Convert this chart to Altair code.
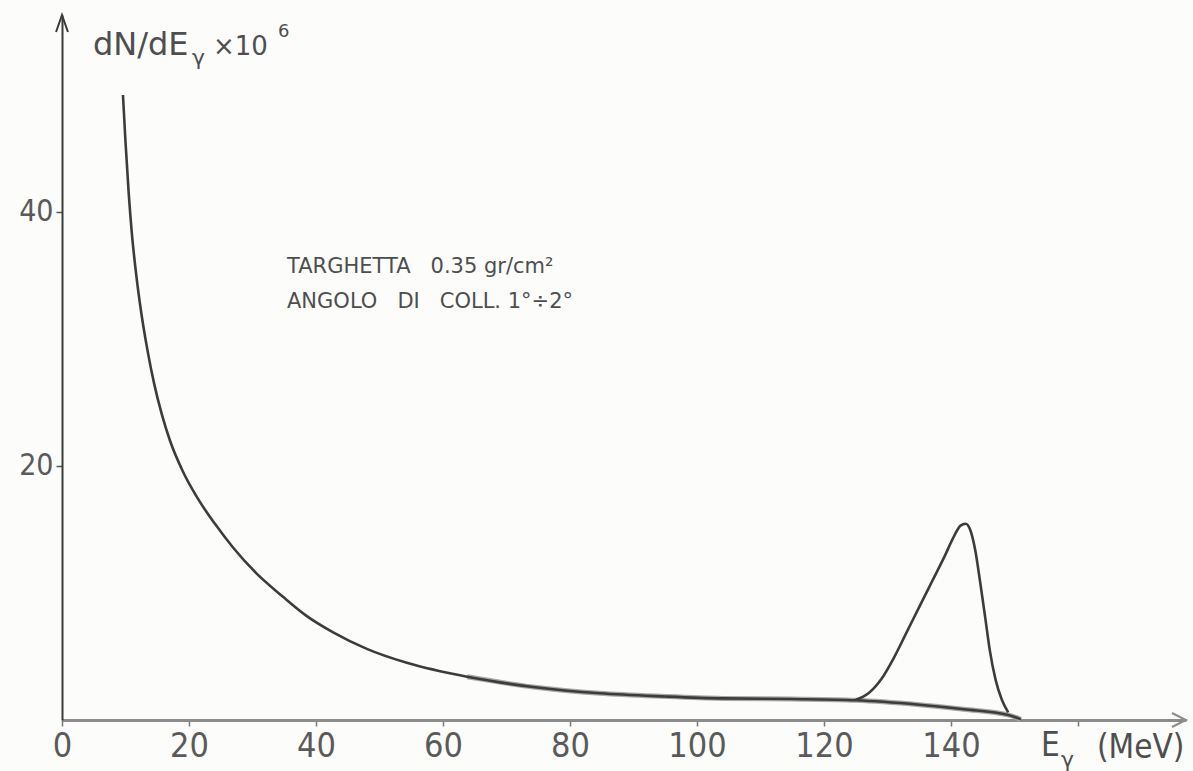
import altair as alt
import pandas as pd

# ---- data ----
cont_E = [9.6, 10.0, 10.5, 11.0, 11.7, 12.5, 13.5, 14.5, 15.7, 17.0, 19.0, 21.3, 24.0, 26.9, 30.5, 34.8,
          38.5, 42.7, 48.0, 54.3, 63.8, 74.2, 84.7, 95.0, 104.0, 115.0, 125.0, 135.0, 142.0, 149.0, 151.0]
cont_N = [49.2, 45.5, 41.5, 38.3, 35.0, 32.0, 29.0, 26.5, 24.1, 22.0, 19.6, 17.5, 15.5, 13.6, 11.6, 9.7,
          8.2, 6.9, 5.6, 4.5, 3.4, 2.6, 2.1, 1.85, 1.7, 1.65, 1.55, 1.2, 0.85, 0.4, 0.05]

peak_E = [125.0, 127.0, 129.0, 131.0, 133.0, 135.0, 137.0, 139.0, 140.5, 141.5, 142.3, 143.0, 143.8,
          144.6, 145.4, 146.1, 147.0, 148.0, 149.0]
peak_N = [1.6, 2.1, 3.2, 4.9, 6.9, 8.9, 10.9, 12.9, 14.5, 15.3, 15.45, 15.0, 13.4,
          10.8, 8.0, 5.5, 3.2, 1.6, 0.6]

x_ticks = [0, 20, 40, 60, 80, 100, 120, 140, 160]
y_ticks = [20, 40]

X_MAX = 177.0
Y_MAX = 55.5

NARROW = "Liberation Sans Narrow, DejaVu Sans Condensed, Liberation Sans, sans-serif"
SANS = "DejaVu Sans, sans-serif"
NB = "\u00a0"

cont = pd.DataFrame({"E": cont_E, "N": cont_N})
band = cont[cont["E"] >= 55].reset_index(drop=True)
peak = pd.DataFrame({"E": peak_E, "N": peak_N})

xs = alt.Scale(domain=[0, X_MAX], nice=False, zero=False)
ys = alt.Scale(domain=[0, Y_MAX], nice=False, zero=False)

x_axis = alt.Axis(values=x_ticks, labelExpr="datum.value == 160 ? '' : datum.label",
                  domainColor="#8c8c8c", domainWidth=3, tickColor="#777777", tickSize=6,
                  tickWidth=1.5, labelFont=NARROW, labelFontSize=34, labelColor="#5a5a5a",
                  labelPadding=3, grid=False, title=None, format="d", labelFlush=False)
y_axis = alt.Axis(values=y_ticks, domainColor="#3a3a3a", domainWidth=2, tickColor="#555555",
                  tickSize=6, tickWidth=1.5, labelFont=NARROW, labelFontSize=30,
                  labelColor="#5a5a5a", labelPadding=3, grid=False, title=None, format="d")

X = alt.X("E:Q", scale=xs, axis=x_axis)
Y = alt.Y("N:Q", scale=ys, axis=y_axis)

band_layer = alt.Chart(band).mark_line(color="#a8a8a8", strokeWidth=5, interpolate="monotone").encode(x=X, y=Y)
cont_layer = alt.Chart(cont).mark_line(color="#3c3c3c", strokeWidth=2.6, interpolate="monotone").encode(x=X, y=Y)
peak_layer = alt.Chart(peak).mark_line(color="#3c3c3c", strokeWidth=2.6, interpolate="monotone").encode(x=X, y=Y)

# axis arrowheads
xarrow = alt.Chart(pd.DataFrame({"E": [X_MAX], "N": [0.0]})).mark_point(
    shape="M -1 -0.5 L 0 0 L -1 0.5", filled=False, size=784, color="#8c8c8c", strokeWidth=2, opacity=1
).encode(x=X, y=Y)
yarrow = alt.Chart(pd.DataFrame({"E": [0.0], "N": [Y_MAX]})).mark_point(
    shape="M -0.35 1 L 0 0 L 0.35 1", filled=False, size=1156, color="#3a3a3a", strokeWidth=2, opacity=1
).encode(x=X, y=Y)

# texts (pixel positions relative to plot origin)
labels = pd.DataFrame([
    {"t": "dN/dE", "px": 31, "py": 40, "fs": 32, "f": "sans"},
    {"t": "γ", "px": 130, "py": 50, "fs": 22, "f": "sans"},
    {"t": "×10", "px": 151, "py": 40, "fs": 26, "f": "sans"},
    {"t": "6", "px": 216, "py": 22, "fs": 18, "f": "sans"},
    {"t": "TARGHETTA" + NB * 3 + "0.35 gr/cm²", "px": 225, "py": 258, "fs": 21, "f": "sans"},
    {"t": "ANGOLO" + NB * 3 + "DI" + NB * 3 + "COLL. 1°÷2°", "px": 225, "py": 293, "fs": 21, "f": "sans"},
    {"t": "E", "px": 979, "py": 741, "fs": 33, "f": "narrow"},
    {"t": "γ", "px": 999, "py": 752, "fs": 22, "f": "sans"},
    {"t": "(MeV)", "px": 1035, "py": 743, "fs": 33, "f": "narrow"},
])

def text_layer(df, font):
    return alt.Chart(df).mark_text(align="left", baseline="alphabetic", font=font, color="#4e4e4e").encode(
        x=alt.X("px:Q", scale=None, axis=None),
        y=alt.Y("py:Q", scale=None, axis=None),
        size=alt.Size("fs:Q", scale=None, legend=None),
        text="t:N",
    )

t_sans = text_layer(labels[labels["f"] == "sans"], SANS)
t_narrow = text_layer(labels[labels["f"] == "narrow"], NARROW)

chart = alt.layer(band_layer, cont_layer, peak_layer, xarrow, yarrow, t_sans, t_narrow).properties(
    width=1124, height=705,
    autosize=alt.AutoSizeParams(type="none"),
    padding={"left": 62, "top": 15, "right": 7, "bottom": 51},
    background="#fcfcfb",
).configure_view(stroke=None)

chart.save("out.html", embed_options={"renderer": "svg", "actions": False})
